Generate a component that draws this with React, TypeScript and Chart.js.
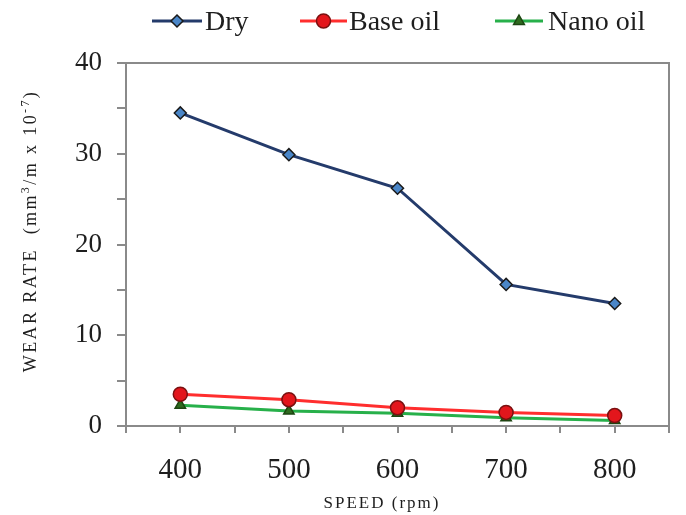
import React, { useEffect, useRef } from 'react';
import { Chart, registerables } from 'chart.js';

Chart.register(...registerables);

const speeds = [400, 500, 600, 700, 800];
const xTickLabels = ['400', '500', '600', '700', '800'];
const yTickLabels = ['0', '10', '20', '30', '40'];
const seriesNames = ['Dry', 'Base oil', 'Nano oil'];
const dry = [34.5, 29.9, 26.2, 15.6, 13.5];
const baseOil = [3.5, 2.9, 2.0, 1.5, 1.15];
const nanoOil = [2.3, 1.65, 1.4, 0.9, 0.6];

const SERIF = '"Liberation Serif", "Times New Roman", serif';
const AXIS_COLOR = '#8a8a8a';
const TEXT_COLOR = '#1e1e1e';

const styles = [
  { line: '#243b6b', fill: '#4a86c8', edge: '#1a1a1a', point: 'rectRot', radius: 6 },
  { line: '#ff2e2e', fill: '#e3161c', edge: '#7a1010', point: 'circle', radius: 7 },
  { line: '#27b04a', fill: '#2f6a1f', edge: '#1d4512', point: 'triangle', radius: 6 },
];

function drawMarker(ctx: CanvasRenderingContext2D, kind: string, x: number, y: number, r: number, fill: string, edge: string) {
  ctx.save();
  ctx.beginPath();
  if (kind === 'rectRot') {
    ctx.moveTo(x, y - r);
    ctx.lineTo(x + r, y);
    ctx.lineTo(x, y + r);
    ctx.lineTo(x - r, y);
    ctx.closePath();
  } else if (kind === 'circle') {
    ctx.arc(x, y, r, 0, Math.PI * 2);
  } else {
    ctx.moveTo(x, y - r);
    ctx.lineTo(x + r * 0.9, y + r * 0.6);
    ctx.lineTo(x - r * 0.9, y + r * 0.6);
    ctx.closePath();
  }
  ctx.fillStyle = fill;
  ctx.fill();
  ctx.lineWidth = 1.5;
  ctx.strokeStyle = edge;
  ctx.stroke();
  ctx.restore();
}

const decorPlugin = {
  id: 'decor',
  beforeDatasetsDraw(chart: any) {
    const { ctx, chartArea } = chart;
    ctx.save();
    ctx.strokeStyle = AXIS_COLOR;
    ctx.lineWidth = 2;
    ctx.beginPath();
    ctx.moveTo(chartArea.left, chartArea.top);
    ctx.lineTo(chartArea.right, chartArea.top);
    ctx.lineTo(chartArea.right, chartArea.bottom);
    ctx.stroke();
    ctx.restore();
  },
  afterDraw(chart: any) {
    const { ctx } = chart;
    // legend
    const legendItems = [
      { x0: 152, x1: 202, tx: 205 },
      { x0: 300, x1: 347, tx: 349 },
      { x0: 495, x1: 543, tx: 548 },
    ];
    const ly = 21;
    legendItems.forEach((it, i) => {
      const s = styles[i];
      ctx.save();
      ctx.strokeStyle = s.line;
      ctx.lineWidth = 3;
      ctx.beginPath();
      ctx.moveTo(it.x0, ly);
      ctx.lineTo(it.x1, ly);
      ctx.stroke();
      ctx.restore();
      drawMarker(ctx, s.point, (it.x0 + it.x1) / 2, ly, s.radius, s.fill, s.edge);
      ctx.save();
      ctx.font = `28px ${SERIF}`;
      ctx.fillStyle = TEXT_COLOR;
      ctx.textBaseline = 'alphabetic';
      ctx.textAlign = 'left';
      ctx.fillText(seriesNames[i], it.tx, 30);
      ctx.restore();
    });

    // x title
    ctx.save();
    ctx.font = `17px ${SERIF}`;
    (ctx as any).letterSpacing = '2px';
    ctx.fillStyle = TEXT_COLOR;
    ctx.textAlign = 'center';
    ctx.textBaseline = 'alphabetic';
    ctx.fillText('SPEED (rpm)', 382, 508);
    ctx.restore();

    // y title with superscripts
    const segs = [
      { t: 'WEAR RATE  (mm', sup: false },
      { t: '3', sup: true },
      { t: '/m x 10', sup: false },
      { t: '-7', sup: true },
      { t: ')', sup: false },
    ];
    ctx.save();
    (ctx as any).letterSpacing = '2.4px';
    ctx.fillStyle = TEXT_COLOR;
    ctx.textBaseline = 'alphabetic';
    ctx.textAlign = 'left';
    const mainFont = `18px ${SERIF}`;
    const supFont = `12px ${SERIF}`;
    let total = 0;
    segs.forEach((s) => {
      ctx.font = s.sup ? supFont : mainFont;
      total += ctx.measureText(s.t).width;
    });
    ctx.translate(36, 231);
    ctx.rotate(-Math.PI / 2);
    let cx = -total / 2;
    segs.forEach((s) => {
      ctx.font = s.sup ? supFont : mainFont;
      ctx.fillText(s.t, cx, s.sup ? -7 : 0);
      cx += ctx.measureText(s.t).width;
    });
    ctx.restore();
  },
};

export default function App() {
  const canvasRef = useRef<HTMLCanvasElement | null>(null);

  useEffect(() => {
    const canvas = canvasRef.current;
    if (!canvas) return;
    const seriesValues = [dry, baseOil, nanoOil];
    const chart = new Chart(canvas, {
      type: 'line',
      data: {
        datasets: seriesValues.map((vals, i) => ({
          label: seriesNames[i],
          data: speeds.map((s, j) => ({ x: s, y: vals[j] })),
          borderColor: styles[i].line,
          borderWidth: 3,
          backgroundColor: styles[i].fill,
          pointStyle: styles[i].point as any,
          pointRadius: styles[i].radius,
          pointBackgroundColor: styles[i].fill,
          pointBorderColor: styles[i].edge,
          pointBorderWidth: 1.5,
          tension: 0,
          fill: false,
        })),
      },
      options: {
        animation: false,
        responsive: false,
        layout: { padding: { top: 63, right: 17, left: 0, bottom: 0 } },
        plugins: {
          legend: { display: false },
          tooltip: { enabled: false },
        },
        scales: {
          x: {
            type: 'linear',
            min: 350,
            max: 850,
            afterFit: (s: any) => { s.height = 89; s.paddingRight = 0; s.paddingLeft = 0; },
            ticks: {
              stepSize: 50,
              autoSkip: false,
              maxRotation: 0,
              padding: 20,
              color: TEXT_COLOR,
              font: { family: SERIF, size: 29 },
              callback: (v: any) => (xTickLabels.includes(String(v)) ? String(v) : ''),
            },
            grid: { drawOnChartArea: false, tickLength: 7, color: AXIS_COLOR, lineWidth: 2 },
            border: { color: AXIS_COLOR, width: 2 },
          },
          y: {
            min: 0,
            max: 40,
            afterFit: (s: any) => { s.width = 126; },
            ticks: {
              stepSize: 5,
              autoSkip: false,
              padding: 15,
              color: TEXT_COLOR,
              font: { family: SERIF, size: 27 },
              callback: (v: any) => (yTickLabels.includes(String(v)) ? String(v) : ''),
            },
            grid: { drawOnChartArea: false, tickLength: 9, color: AXIS_COLOR, lineWidth: 2 },
            border: { color: AXIS_COLOR, width: 2 },
          },
        },
      },
      plugins: [decorPlugin],
    });
    return () => chart.destroy();
  }, []);

  return (
    <div style={{ position: 'fixed', left: 0, top: 0, width: 686, height: 515, background: '#fff' }}>
      <canvas ref={canvasRef} width={686} height={515} style={{ display: 'block' }} />
    </div>
  );
}
